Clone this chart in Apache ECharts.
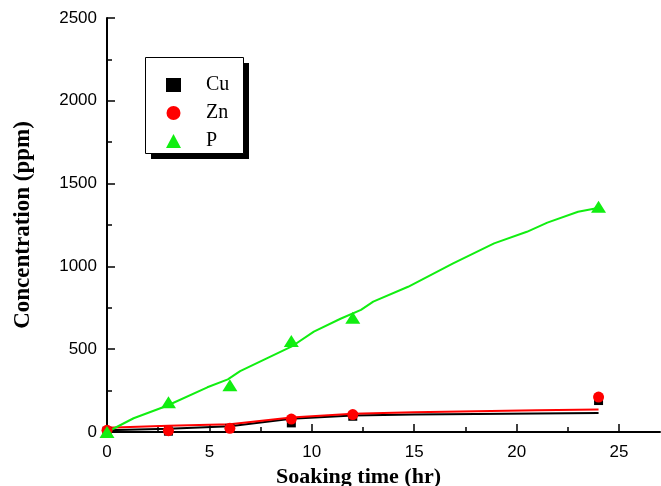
<!DOCTYPE html>
<html>
<head>
<meta charset="utf-8">
<style>
  html, body { margin: 0; padding: 0; background: #fff; }
  #chart { width: 661px; height: 486px; }
</style>
<script src="https://cdn.jsdelivr.net/npm/echarts@6/dist/echarts.min.js"></script>
</head>
<body>
<div id="chart"></div>
<script>
// measured points
const cuPoints = [[0, 5], [3, 5], [6, 22], [9, 55], [12, 95], [24, 190]]
const znPoints = [[0, 10], [3, 8], [6, 22], [9, 78], [12, 105], [24, 211]]
const pPoints = [[0, 0], [3, 180], [6, 283], [9, 550], [12, 690], [24, 1360]]

// fitted curves
const cuFit = [[0, 10], [3, 20], [6, 35], [9, 80], [12, 100], [15, 105], [18, 108], [21, 111], [24, 114]]
const znFit = [[0, 25], [3, 37], [6, 47], [9, 88], [12, 110], [15, 120], [18, 126], [21, 131], [24, 136]]
const pFit = [[0, 0], [1.3, 83], [2.9, 157], [4.9, 270], [5.9, 318], [6.5, 368], [7.8, 445], [9, 515],
  [10.1, 606], [11.4, 684], [12.4, 737], [13, 787], [14.7, 877], [16.9, 1018], [18.9, 1139],
  [20.5, 1209], [21.5, 1264], [23, 1330], [23.9, 1351]]

const xTicks = [0, 5, 10, 15, 20, 25]
const xMinorTicks = [2.5, 7.5, 12.5, 17.5, 22.5]

const green = '#11ee11'
const tickFont = { color: '#000', fontFamily: 'Liberation Sans, Arial', fontSize: 17 }
const serif = 'Liberation Serif, Times New Roman'

const chart = echarts.init(document.getElementById('chart'))

chart.setOption({
  animation: false,
  backgroundColor: '#fff',
  grid: { left: 107, right: 1, top: 18, bottom: 54, containLabel: false, outerBoundsMode: 'none' },
  graphic: [
    { type: 'rect', left: 151, top: 63, shape: { width: 98, height: 96 }, style: { fill: '#000' }, z: 1 },
    { type: 'rect', left: 145, top: 57, shape: { width: 98, height: 96 }, style: { fill: '#fff', stroke: '#000', lineWidth: 1 }, z: 2 }
  ],
  legend: {
    data: ['Cu', 'Zn', 'P'],
    orient: 'vertical',
    left: 166,
    top: 75,
    padding: 0,
    itemWidth: 15,
    itemHeight: 14,
    itemGap: 8,
    z: 5,
    textStyle: { color: '#000', fontFamily: serif, fontSize: 20, padding: [0, 0, 0, 20] }
  },
  xAxis: [
    {
      type: 'value', min: 0, max: 27,
      name: 'Soaking time (hr)', nameLocation: 'middle', nameGap: 30,
      nameTextStyle: { color: '#000', fontFamily: serif, fontSize: 22, fontWeight: 'bold', padding: [0, 50, 0, 0] },
      axisLine: { lineStyle: { color: '#000', width: 2 } },
      axisTick: { inside: true, length: 8, customValues: xTicks, lineStyle: { color: '#000', width: 1.5 } },
      axisLabel: Object.assign({ margin: 12, customValues: xTicks }, tickFont),
      splitLine: { show: false }
    },
    {
      type: 'value', min: 0, max: 27, position: 'bottom', offset: 0,
      axisLine: { show: false },
      axisTick: { inside: true, length: 5, customValues: xMinorTicks, lineStyle: { color: '#000', width: 1.5 } },
      axisLabel: { show: false },
      splitLine: { show: false }
    }
  ],
  yAxis: {
    type: 'value', min: 0, max: 2500, interval: 500,
    name: 'Concentration (ppm)', nameLocation: 'middle', nameGap: 72,
    nameTextStyle: { color: '#000', fontFamily: serif, fontSize: 23, fontWeight: 'bold' },
    axisLine: { lineStyle: { color: '#000', width: 2 } },
    axisTick: { inside: true, length: 8, lineStyle: { color: '#000', width: 1.5 } },
    minorTick: { show: true, splitNumber: 2, length: 5, lineStyle: { color: '#000', width: 1.5 } },
    axisLabel: Object.assign({ margin: 10, formatter: (v) => String(v) }, tickFont),
    splitLine: { show: false }
  },
  series: [
    { type: 'line', data: cuFit, showSymbol: false, lineStyle: { color: '#000', width: 2 }, itemStyle: { color: '#000' }, z: 2, silent: true },
    { type: 'line', data: znFit, showSymbol: false, lineStyle: { color: '#ff0000', width: 2 }, itemStyle: { color: '#ff0000' }, z: 2, silent: true },
    { type: 'line', data: pFit, showSymbol: false, lineStyle: { color: green, width: 2 }, itemStyle: { color: green }, z: 2, silent: true },
    { name: 'Cu', type: 'scatter', data: cuPoints, symbol: 'rect', symbolSize: 9, itemStyle: { color: '#000', opacity: 1 }, z: 3 },
    { name: 'Zn', type: 'scatter', data: znPoints, symbol: 'circle', symbolSize: 11, itemStyle: { color: '#ff0000', opacity: 1 }, z: 4 },
    { name: 'P', type: 'scatter', data: pPoints, symbol: 'triangle', symbolSize: [15, 12], itemStyle: { color: green, opacity: 1 }, z: 5 }
  ]
})

window.addEventListener('resize', () => {
  chart.resize()
})
</script>
</body>
</html>
